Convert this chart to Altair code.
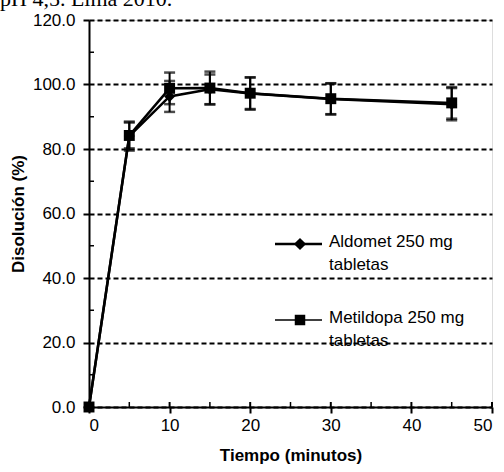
import altair as alt
import pandas as pd

tiempo = [0, 5, 10, 15, 20, 30, 45]
aldomet = [0.0, 84.0, 96.3, 98.5, 97.2, 95.5, 93.9]
aldomet_err = [0.0, 4.5, 4.8, 4.6, 5.0, 4.8, 5.0]
metildopa = [0.0, 84.2, 98.8, 98.9, 97.3, 95.6, 94.3]
metildopa_err = [0.0, 4.0, 4.9, 5.1, 4.9, 4.8, 4.9]
series_names = ["Aldomet 250 mg tabletas", "Metildopa 250 mg tabletas"]
y_ticks = [0, 20, 40, 60, 80, 100, 120]
x_ticks = [0, 10, 20, 30, 40, 50]
y_minor = [10, 30, 50, 70, 90, 110]
x_minor = [5, 15, 25, 35, 45]

rows = []
for name, vals, errs, shape in [(series_names[0], aldomet, aldomet_err, "diamond"),
                                (series_names[1], metildopa, metildopa_err, "square")]:
    for t, v, e in zip(tiempo, vals, errs):
        rows.append({"t": t, "v": v, "lo": v - e, "hi": v + e, "serie": name, "shape": shape})
df = pd.DataFrame(rows)
df_err = df[df["t"] > 0]

W, H = 403, 387
xs = alt.Scale(domain=[0, 50])
ys = alt.Scale(domain=[0, 120])

x_axis = alt.Axis(values=x_ticks, title="Tiempo (minutos)", grid=False, titlePadding=14)
y_axis = alt.Axis(values=y_ticks, format=".1f", title="Disolución (%)", grid=True,
                  gridDash=[5, 3], gridColor="black", gridWidth=1.8, gridOpacity=1,
                  titlePadding=5, labelPadding=8)

base = alt.Chart(df)

lines = base.mark_line(color="black", strokeWidth=2.5).encode(
    x=alt.X("t:Q", scale=xs, axis=x_axis),
    y=alt.Y("v:Q", scale=ys, axis=y_axis),
    detail="serie:N",
)

points = base.mark_point(filled=True, color="black", opacity=1, size=120).encode(
    x=alt.X("t:Q", scale=xs, axis=x_axis),
    y=alt.Y("v:Q", scale=ys, axis=y_axis),
    shape=alt.Shape("shape:N", scale=None),
)

err_rule = alt.Chart(df_err).mark_rule(color="black", strokeWidth=2).encode(
    x=alt.X("t:Q", scale=xs, axis=x_axis), y=alt.Y("lo:Q", scale=ys, axis=y_axis), y2="hi:Q")
cap_hi = alt.Chart(df_err).mark_tick(color="black", thickness=2.5, size=11, orient="horizontal").encode(
    x=alt.X("t:Q", scale=xs, axis=x_axis), y=alt.Y("hi:Q", scale=ys, axis=y_axis))
cap_lo = alt.Chart(df_err).mark_tick(color="black", thickness=2.5, size=11, orient="horizontal").encode(
    x=alt.X("t:Q", scale=xs, axis=x_axis), y=alt.Y("lo:Q", scale=ys, axis=y_axis))

ymin_df = pd.DataFrame({"v": y_minor})
xmin_df = pd.DataFrame({"t": x_minor})
y_minor_ticks = alt.Chart(ymin_df).mark_rule(color="black", strokeWidth=1.5).encode(
    y=alt.Y("v:Q", scale=ys, axis=y_axis), x=alt.value(0), x2=alt.value(5))
x_minor_ticks = alt.Chart(xmin_df).mark_rule(color="black", strokeWidth=1.5).encode(
    x=alt.X("t:Q", scale=xs, axis=x_axis), y=alt.value(H), y2=alt.value(H - 5))
xmaj_df = pd.DataFrame({"t": x_ticks[1:]})
x_major_up = alt.Chart(xmaj_df).mark_rule(color="black", strokeWidth=2).encode(
    x=alt.X("t:Q", scale=xs, axis=x_axis), y=alt.value(H), y2=alt.value(H - 5))

# custom legend
leg_layers = []
for i, (name, shape) in enumerate(zip(series_names, ["diamond", "square"])):
    ly = 224 + i * 76
    first, second = name.rsplit(" ", 1)
    leg_df = pd.DataFrame({"label": [[first, second]]})
    lc = alt.Chart(leg_df)
    leg_layers.append(lc.mark_rule(color="black", strokeWidth=2.5 if i == 0 else 1.5).encode(
        x=alt.value(186), x2=alt.value(233), y=alt.value(ly)))
    leg_layers.append(lc.mark_point(filled=True, color="black", opacity=1,
                                    size=150 if shape == "diamond" else 110, shape=shape).encode(
        x=alt.value(211), y=alt.value(ly)))
    leg_layers.append(lc.mark_text(align="left", baseline="top", fontSize=17, lineHeight=23,
                                   font="Liberation Sans", color="black").encode(
        x=alt.value(240), y=alt.value(ly - 10), text="label:N"))

title_df = pd.DataFrame({"txt": ["pH 4,5. Lima 2010."]})
top_text = alt.Chart(title_df).mark_text(align="left", baseline="alphabetic", fontSize=22,
                                         font="Liberation Serif", color="black").encode(
    x=alt.value(-89), y=alt.value(-14), text="txt:N")

chart = alt.layer(lines, err_rule, cap_hi, cap_lo, points, y_minor_ticks, x_minor_ticks,
                  x_major_up, *leg_layers, top_text).properties(
    width=W, height=H,
    autosize=alt.AutoSizeParams(type="none"),
    padding={"left": 89, "top": 20, "right": 12, "bottom": 65},
).configure_view(stroke=None).configure(background="white").configure_axis(
    labelFontSize=17, labelFont="Liberation Sans", labelColor="black", labelPadding=4,
    titleFontSize=17, titleFont="Liberation Sans", titleFontWeight="bold", titleColor="black",
    domainWidth=2, domainColor="black", tickWidth=2, tickColor="black", tickSize=6,
)

chart.save("out.html", embed_options={"renderer": "svg", "actions": False})
